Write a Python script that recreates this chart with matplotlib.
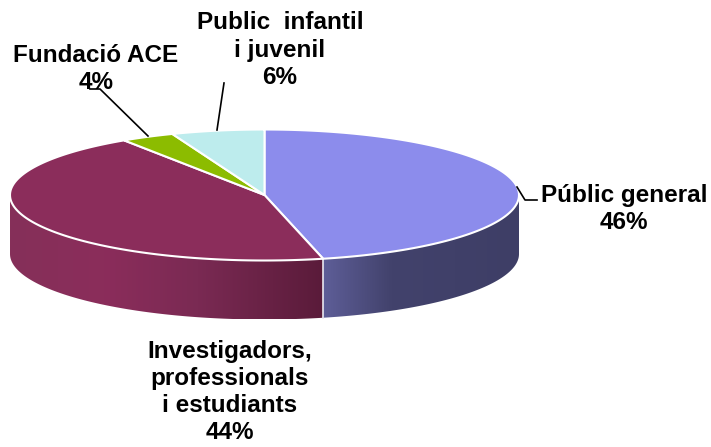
import numpy as np
import matplotlib
matplotlib.use('Agg')
import matplotlib.pyplot as plt
from matplotlib.colors import LinearSegmentedColormap
from matplotlib.patches import Polygon

labels = ['Públic general\n46%', 'Investigadors,\nprofessionals\ni estudiants\n44%',
          'Fundació ACE\n4%', 'Public  infantil\ni juvenil\n6%']
values = [46.3, 44.4, 3.4, 5.9]
top_colors = ['#8c8cec', '#8b2d5b', '#8cbc00', '#bdeced']
label_pos = [(624, 209), (230, 392), (96, 69), (280, 50)]

cx, cy, rx, ry, depth = 264.5, 195, 254.5, 65.5, 59

plt.rcParams['font.family'] = ['Liberation Sans', 'DejaVu Sans']
fig = plt.figure(figsize=(7.11, 4.47), dpi=100, facecolor='white')
ax = fig.add_axes([0, 0, 1, 1])
ax.set_xlim(0, 711)
ax.set_ylim(447, 0)
ax.axis('off')


def rim(a0, a1, dy=0, n=200):
    # angles in degrees clockwise from the top of the ellipse
    t = np.radians(np.linspace(a0, a1, n))
    return np.column_stack([cx + rx * np.sin(t), cy - ry * np.cos(t) + dy])


def wall(a0, a1, stops, x0, x1):
    # front side of a slice, shaded left to right
    top = rim(a0, a1)
    bottom = rim(a0, a1, depth)[::-1]
    poly = Polygon(np.vstack([top, bottom]), closed=True, fc='none', ec='none')
    ax.add_patch(poly)
    cmap = LinearSegmentedColormap.from_list('w', stops)
    grad = np.linspace(0, 1, 256).reshape(1, -1)
    im = ax.imshow(grad, cmap=cmap, extent=[x0, x1, cy + ry + depth, cy], aspect='auto', zorder=1)
    im.set_clip_path(poly)
    ax.set_xlim(0, 711)
    ax.set_ylim(447, 0)


angles = np.concatenate([[0], np.cumsum(values)]) * 360 / sum(values)
edge = rim(angles[1], angles[1])[0]

# side walls, only the two big slices show
wall(90, angles[1], [(0, '#5e5e98'), (0.35, '#42426c'), (1, '#3e3e66')], edge[0], cx + rx)
wall(angles[1], 270, [(0, '#853059'), (0.3, '#8b2d5b'), (0.6, '#7a2a53'), (1, '#5a1b3a')], cx - rx, edge[0])

# divider between the walls
ax.plot([edge[0], edge[0]], [edge[1], edge[1] + depth], color='#e8e8f0', lw=1.2, zorder=2)

# top slices
for i in range(len(values)):
    pts = np.vstack([[cx, cy], rim(angles[i], angles[i + 1])])
    ax.add_patch(Polygon(pts, closed=True, fc=top_colors[i], ec='white', lw=1.5, zorder=3))

# leader lines
ax.plot([517, 525, 537], [187, 200, 200], color='black', lw=1.2, zorder=4)
ax.plot([148, 100, 90], [136, 89, 89], color='black', lw=1.2, zorder=4)
ax.plot([217, 224], [130, 83], color='black', lw=1.2, zorder=4)

for text, (x, y) in zip(labels, label_pos):
    ax.text(x, y, text, ha='center', va='center', fontsize=17.5, fontweight='bold',
            color='black', linespacing=1.23, zorder=5)

fig.savefig('out.png', dpi=100)
